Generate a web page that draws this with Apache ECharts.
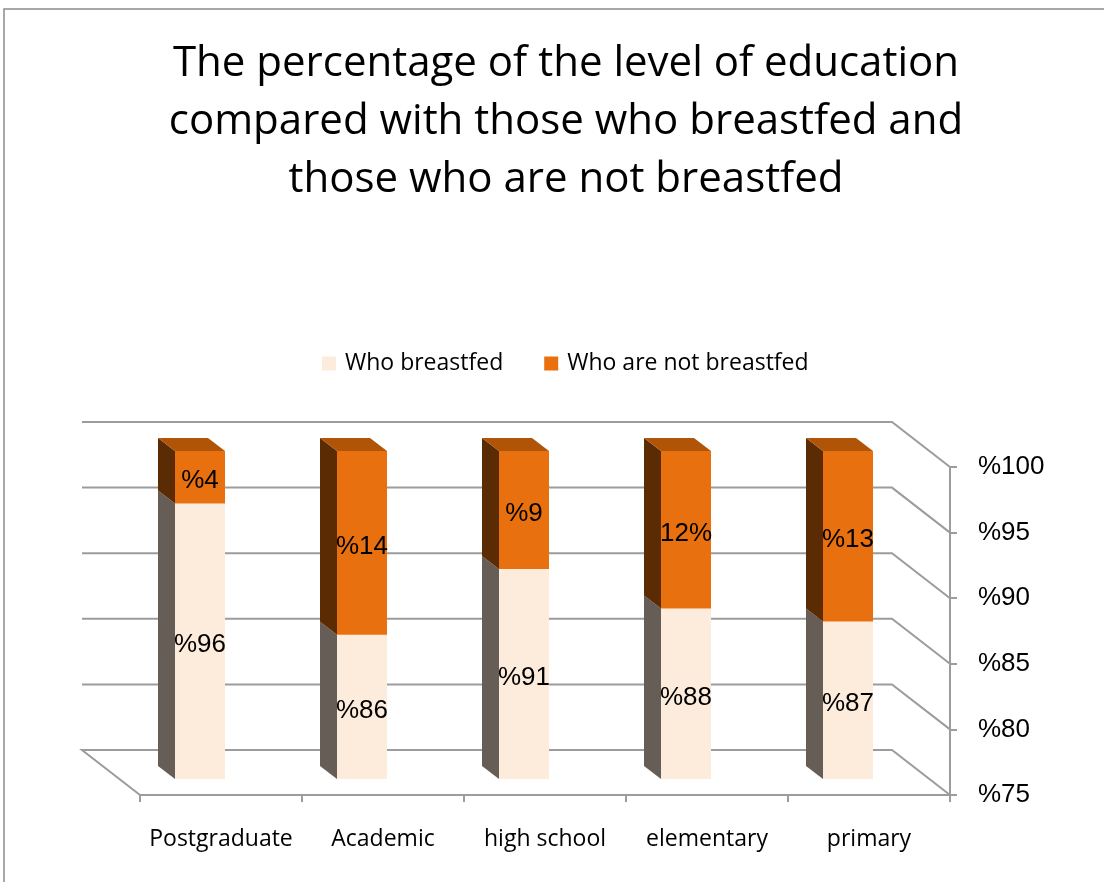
<!DOCTYPE html>
<html>
<head>
<meta charset="utf-8">
<title>Education level and breastfeeding</title>
<script src="https://cdn.jsdelivr.net/npm/echarts@6/dist/echarts.min.js"></script>
<style>
  html, body { margin: 0; padding: 0; background: #ffffff; }
  #chart { width: 1104px; height: 882px; }
</style>
</head>
<body>
<div id="chart"></div>
<script>
// Education levels and the share of mothers in each group
const categories = ['Postgraduate', 'Academic', 'high school', 'elementary', 'primary'];
const breastfed = [96, 86, 91, 88, 87];
const notBreastfed = [4, 14, 9, 12, 13];
const breastfedLabels = ['%96', '%86', '%91', '%88', '%87'];
const notBreastfedLabels = ['%4', '%14', '%9', '12%', '%13'];

// Value axis
const AXIS_MIN = 75;
const AXIS_MAX = 100;
const AXIS_STEP = 5;
const gridValues = [75, 80, 85, 90, 95, 100];

// Pseudo-3D geometry (pixels)
const WALL_DX = -58, WALL_DY = -45;   // depth of the back wall
const BAR_DX = -21, BAR_DY = -16;     // bars sit halfway into the depth
const SIDE_DX = -17, SIDE_DY = -13;   // thickness of each bar
const BAR_W = 50;
const LABEL_SHIFT = 4;                // value labels sit a little below the face centre

const SANS = '"Open Sans", "Noto Sans", sans-serif';
const ARIAL = '"Liberation Sans", Arial, sans-serif';
const GRID_COLOR = '#9c9c9c';
const COLORS = {
  lightFront: '#FDECDC', lightSide: '#665D57',
  darkFront: '#E8700F', darkSide: '#5B2B03', darkTop: '#B05508'
};

const chart = echarts.init(document.getElementById('chart'), null, { renderer: 'canvas' });

function wallItem(params, api) {
  const cs = params.coordSys;
  const v = api.value(1);
  const y = api.coord([0, v])[1];
  const left = cs.x, right = cs.x + cs.width;
  const pts = [];
  if (v === AXIS_MIN) pts.push([left, y]);
  pts.push([left + WALL_DX, y + WALL_DY], [right + WALL_DX, y + WALL_DY], [right, y]);
  return {
    type: 'polyline',
    shape: { points: pts },
    style: { stroke: GRID_COLOR, lineWidth: 2, fill: null },
    silent: true
  };
}

function makeSegment(front, side, top, labels) {
  return function (params, api) {
    const i = api.value(0);
    const lo = api.coord([i, api.value(1)]);
    const hi = api.coord([i, api.value(2)]);
    const cx = lo[0] + BAR_DX;
    const yLo = lo[1] + BAR_DY;
    const yHi = hi[1] + BAR_DY;
    const x0 = cx - BAR_W / 2, x1 = cx + BAR_W / 2;
    const children = [
      {
        type: 'polygon',
        shape: { points: [[x0, yLo], [x0, yHi], [x0 + SIDE_DX, yHi + SIDE_DY], [x0 + SIDE_DX, yLo + SIDE_DY]] },
        style: { fill: side }
      },
      {
        type: 'rect',
        shape: { x: x0, y: yHi, width: BAR_W, height: yLo - yHi },
        style: { fill: front }
      }
    ];
    if (top) {
      children.push({
        type: 'polygon',
        shape: { points: [[x0, yHi], [x1, yHi], [x1 + SIDE_DX, yHi + SIDE_DY], [x0 + SIDE_DX, yHi + SIDE_DY]] },
        style: { fill: top }
      });
    }
    children.push({
      type: 'text',
      style: {
        text: labels[params.dataIndex],
        x: cx, y: (yLo + yHi) / 2 + LABEL_SHIFT,
        align: 'center', verticalAlign: 'middle',
        fill: '#000', fontSize: 26, fontFamily: ARIAL
      }
    });
    return { type: 'group', children: children };
  };
}

const option = {
  backgroundColor: '#ffffff',
  animation: false,
  title: {
    text: 'The percentage of the level of education\ncompared with those who breastfed and\nthose who are not breastfed',
    left: 561,
    top: 30,
    textAlign: 'center',
    textStyle: {
      fontFamily: SANS,
      fontWeight: 'normal',
      fontSize: 42,
      lineHeight: 58,
      color: '#000'
    }
  },
  legend: {
    left: 322,
    top: 352,
    padding: 0,
    itemWidth: 14,
    itemHeight: 14,
    itemGap: 41,
    icon: 'rect',
    data: ['Who breastfed', 'Who are not breastfed'],
    textStyle: { fontFamily: SANS, fontSize: 23, color: '#000', padding: [0, 0, 0, 4] }
  },
  grid: { left: 140, right: 154, top: 467, bottom: 87 },
  xAxis: {
    type: 'category',
    data: categories,
    boundaryGap: true,
    axisLine: { show: true, lineStyle: { color: GRID_COLOR, width: 2 } },
    axisTick: { show: true, interval: 0, length: 7, lineStyle: { color: GRID_COLOR, width: 2 } },
    axisLabel: { interval: 0, hideOverlap: false, margin: 33, color: '#000', fontSize: 23, fontFamily: SANS },
    splitLine: { show: false }
  },
  yAxis: {
    type: 'value',
    position: 'right',
    min: AXIS_MIN,
    max: AXIS_MAX,
    interval: AXIS_STEP,
    axisLine: { show: true, lineStyle: { color: GRID_COLOR, width: 2 } },
    axisTick: { show: true, length: 7, lineStyle: { color: GRID_COLOR, width: 2 } },
    axisLabel: {
      margin: 28, color: '#000', fontSize: 26, fontFamily: ARIAL,
      formatter: function (v) { return '%' + v; }
    },
    splitLine: { show: false }
  },
  series: [
    {
      name: 'walls',
      type: 'custom',
      silent: true,
      z: 1,
      renderItem: wallItem,
      data: gridValues.map(function (v) { return [0, v]; })
    },
    {
      name: 'Who breastfed',
      type: 'custom',
      z: 2,
      itemStyle: { color: COLORS.lightFront },
      renderItem: makeSegment(COLORS.lightFront, COLORS.lightSide, null, breastfedLabels),
      encode: { x: 0, y: [1, 2] },
      data: breastfed.map(function (b, i) { return [i, AXIS_MIN, b]; })
    },
    {
      name: 'Who are not breastfed',
      type: 'custom',
      z: 2,
      itemStyle: { color: COLORS.darkFront },
      renderItem: makeSegment(COLORS.darkFront, COLORS.darkSide, COLORS.darkTop, notBreastfedLabels),
      encode: { x: 0, y: [1, 2] },
      data: breastfed.map(function (b, i) { return [i, b, b + notBreastfed[i]]; })
    }
  ],
  graphic: [
    {
      type: 'rect',
      silent: true,
      shape: { x: 4, y: 9, width: 1200, height: 1000 },
      style: { fill: null, stroke: '#8c8c8c', lineWidth: 1.5 }
    }
  ]
};

chart.setOption(option);
</script>
</body>
</html>
